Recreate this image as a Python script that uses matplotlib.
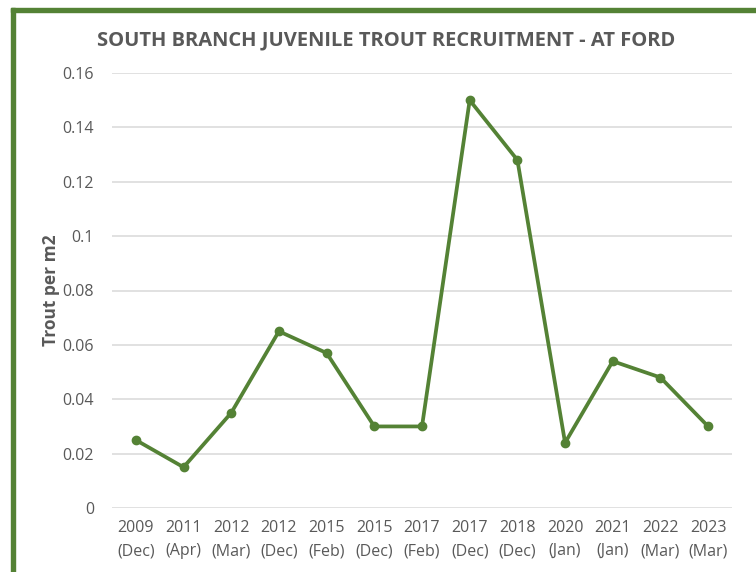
import matplotlib.pyplot as plt
from matplotlib.patches import Rectangle

years = ["2009", "2011", "2012", "2012", "2015", "2015", "2017",
         "2017", "2018", "2020", "2021", "2022", "2023"]
months = ["Dec", "Apr", "Mar", "Dec", "Feb", "Dec", "Feb",
          "Dec", "Dec", "Jan", "Jan", "Mar", "Mar"]
trout_per_m2 = [0.025, 0.015, 0.035, 0.065, 0.057, 0.030, 0.030,
                0.150, 0.128, 0.024, 0.054, 0.048, 0.030]
yticks = [0, 0.02, 0.04, 0.06, 0.08, 0.1, 0.12, 0.14, 0.16]
ytick_labels = ["0", "0.02", "0.04", "0.06", "0.08", "0.1", "0.12", "0.14", "0.16"]

green = "#548235"
grey = "#595959"
plt.rcParams["font.family"] = ["Open Sans", "DejaVu Sans"]

fig = plt.figure(figsize=(7.56, 5.72), dpi=100)

# green chart frame (left and top edges)
W, H = 756, 572
fig.patches.append(Rectangle((11 / W, 0), 4 / W, 1 - 8 / H,
                             transform=fig.transFigure, color=green, zorder=5))
fig.patches.append(Rectangle((11 / W, 1 - 12 / H), 1 - 11 / W, 4 / H,
                             transform=fig.transFigure, color=green, zorder=5))

ax = fig.add_axes([112 / W, 1 - 508 / H, 620 / W, 435 / H])
x = list(range(len(trout_per_m2)))
ax.plot(x, trout_per_m2, color=green, linewidth=2.7, marker="o",
        markersize=6, zorder=3)

ax.set_xlim(-0.5, len(x) - 0.5)
ax.set_ylim(0, 0.16)
ax.set_yticks(yticks)
ax.set_yticklabels(ytick_labels)
ax.set_xticks(x)
ax.set_xticklabels([f"{y}\n({m})" for y, m in zip(years, months)],
                   linespacing=1.55)
ax.tick_params(axis="both", length=0, labelsize=11.5, colors=grey)
ax.tick_params(axis="x", pad=9)
ax.tick_params(axis="y", pad=13)
ax.grid(axis="y", color="#d9d9d9", linewidth=1.1)
ax.set_axisbelow(True)
for s in ax.spines.values():
    s.set_visible(False)

ax.set_ylabel("Trout per m2", fontsize=12.5, color=grey, fontweight="bold",
              labelpad=2)
fig.text(386 / W, 1 - 40 / H, "SOUTH BRANCH JUVENILE TROUT RECRUITMENT - AT FORD",
         ha="center", va="center", fontsize=14.5, fontweight="bold", color=grey)

fig.savefig("out.png", dpi=100)
